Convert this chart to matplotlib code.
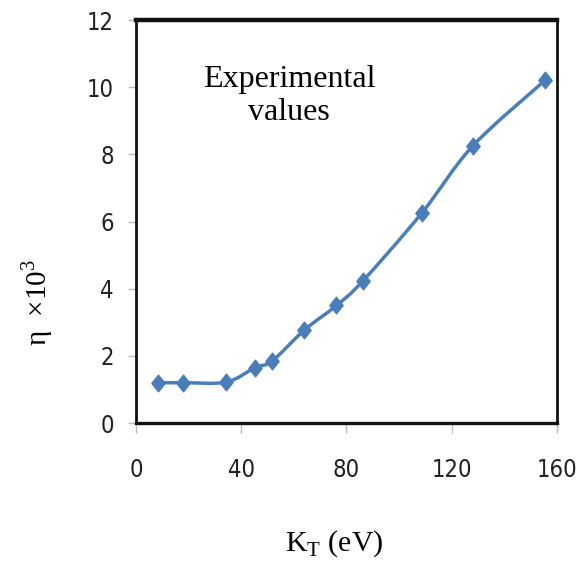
import matplotlib.pyplot as plt
from matplotlib.path import Path
from matplotlib.patches import PathPatch
import numpy as np

# Data
kt = [8.4, 17.9, 34.3, 45.3, 51.8, 64.0, 76.2, 86.1, 108.6, 128.0, 155.4]
eta = [1.2, 1.2, 1.22, 1.65, 1.85, 2.77, 3.5, 4.22, 6.25, 8.25, 10.2]
xticks = [0, 40, 80, 120, 160]
yticks = [0, 2, 4, 6, 8, 10, 12]

blue = '#4A7EBB'
fig = plt.figure(figsize=(5.82, 5.62), dpi=100)
ax = fig.add_axes([0.2337, 0.2473, 0.7233, 0.7171])

# smoothed line (Catmull-Rom -> Bezier) like Excel's smoothed line
x = np.array(kt)
y = np.array(eta)
verts = [(x[0], y[0])]
codes = [Path.MOVETO]
for i in range(len(x) - 1):
    p0 = (x[max(i - 1, 0)], y[max(i - 1, 0)])
    p1 = (x[i], y[i])
    p2 = (x[i + 1], y[i + 1])
    p3 = (x[min(i + 2, len(x) - 1)], y[min(i + 2, len(x) - 1)])
    c1 = (p1[0] + (p2[0] - p0[0]) / 6, p1[1] + (p2[1] - p0[1]) / 6)
    c2 = (p2[0] - (p3[0] - p1[0]) / 6, p2[1] - (p3[1] - p1[1]) / 6)
    verts += [c1, c2, p2]
    codes += [Path.CURVE4] * 3
ax.add_patch(PathPatch(Path(verts, codes), fill=False, edgecolor=blue, lw=2.5,
                       capstyle='round', joinstyle='round', zorder=2))

diamond = Path([(0, 1), (0.8, 0), (0, -1), (-0.8, 0), (0, 1)],
               [Path.MOVETO, Path.LINETO, Path.LINETO, Path.LINETO, Path.CLOSEPOLY])
ax.plot(kt, eta, linestyle='none', marker=diamond, markersize=12,
        color=blue, zorder=3)

ax.set_xlim(0, 160)
ax.set_ylim(0, 12)
ax.set_xticks(xticks)
ax.set_yticks(yticks)

ax.set_xticklabels([str(v) for v in xticks], family='DejaVu Sans',
                   stretch='condensed', fontsize=17, color='#222222')
ax.set_yticklabels([str(v) for v in yticks], family='DejaVu Sans',
                   stretch='condensed', fontsize=17, color='#222222')
ax.tick_params(axis='x', direction='out', length=7.5, width=1, color='#bbbbbb', pad=18)
ax.tick_params(axis='y', direction='out', length=6, width=1, color='#bbbbbb', pad=10)

ax.spines['top'].set_linewidth(3.2)
ax.spines['left'].set_linewidth(2)
ax.spines['bottom'].set_linewidth(2.4)
ax.spines['right'].set_linewidth(2)
for s in ax.spines.values():
    s.set_color('#111111')

serif = 'Liberation Serif'
ax.text(0.363, 0.812, 'Experimental\nvalues', transform=ax.transAxes,
        ha='center', va='center', family=serif, fontsize=23, linespacing=1.2)

fig.text(0.575, 0.032, r'K$_\mathregular{T}$ (eV)', ha='center', va='center',
         family=serif, fontsize=21.5)
fig.text(0.064, 0.461, r'η  ×10$^\mathregular{3}$', ha='center', va='center',
         rotation=90, family=serif, fontsize=21)

plt.savefig('out.png', dpi=100)
